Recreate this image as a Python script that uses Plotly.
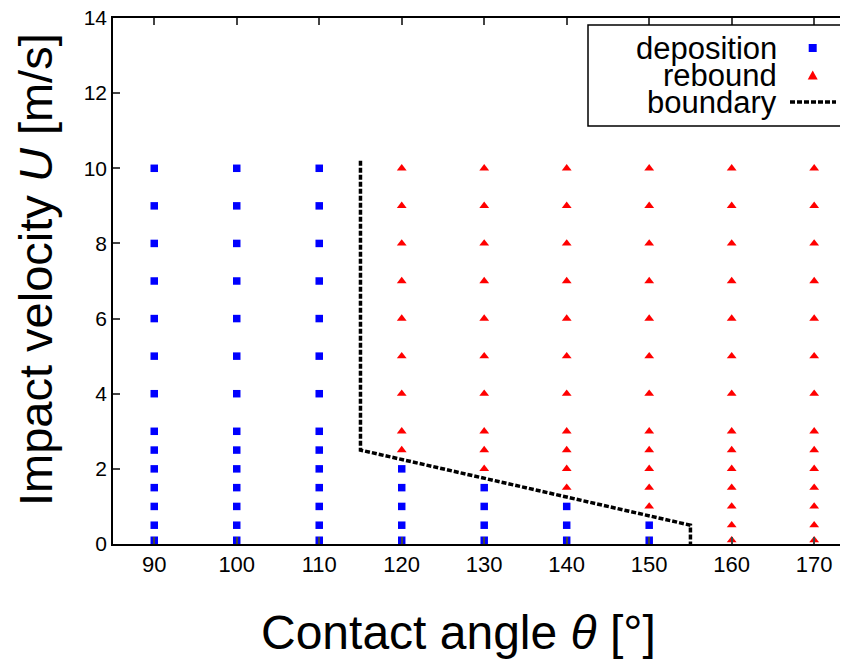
import plotly.graph_objects as go

# ---- data ----
angles = [90, 100, 110, 120, 130, 140, 150, 160, 170]
velocities = [0.1, 0.5, 1, 1.5, 2, 2.5, 3, 4, 5, 6, 7, 8, 9, 10]
# highest velocity (inclusive) still showing deposition at each angle (None = never)
deposition_max_u = [10, 10, 10, 2, 1.5, 1, 0.5, None, None]

boundary_theta = [115, 115, 155, 155]
boundary_u = [10.2, 2.5, 0.5, 0]

x_ticks = [90, 100, 110, 120, 130, 140, 150, 160, 170]
y_ticks = [0, 2, 4, 6, 8, 10, 12, 14]

dep_x, dep_y, reb_x, reb_y = [], [], [], []
for a, umax in zip(angles, deposition_max_u):
    for u in velocities:
        if umax is not None and u <= umax:
            dep_x.append(a); dep_y.append(u)
        else:
            reb_x.append(a); reb_y.append(u)

OFF = 8  # page body margin
W, H = 848 - OFF, 662 - OFF
L, R, T, B = 113 - OFF, 0, 18 - OFF, 662 - 544
PW, PH = W - L - R, H - T - B

def px(x):  # page x -> paper
    return (x - OFF - L) / PW

def py(y):  # page y -> paper
    return (H - B - (y - OFF)) / PH

fig = go.Figure()
fig.add_trace(go.Scatter(x=dep_x, y=dep_y, mode="markers", name="deposition",
                         marker=dict(symbol="square", size=7.5, color="#0000ff"),
                         showlegend=False))
fig.add_trace(go.Scatter(x=reb_x, y=reb_y, mode="markers", name="rebound",
                         marker=dict(symbol="triangle-up", size=8.5, color="#ff0000"),
                         showlegend=False))
fig.add_trace(go.Scatter(x=boundary_theta, y=boundary_u, mode="lines", name="boundary",
                         line=dict(color="black", width=3.5, dash="5px,2px"),
                         showlegend=False))

font_family = "Liberation Sans, Arial, sans-serif"

fig.update_layout(
    width=W, height=H,
    margin=dict(l=L, r=R, t=T, b=B),
    plot_bgcolor="white", paper_bgcolor="white",
    font=dict(family=font_family, color="black", size=22),
    xaxis=dict(range=[85, 174.1], tickvals=x_ticks, ticks="inside", ticklen=7,
               tickwidth=1.5, showline=True, linewidth=1.5, linecolor="black",
               mirror="ticks", showgrid=False, zeroline=False,
               tickfont=dict(size=22), automargin=False, ticklabeloverflow="allow"),
    yaxis=dict(range=[0, 14], tickvals=y_ticks, ticks="inside", ticklen=7,
               tickwidth=1.5, showline=True, linewidth=1.5, linecolor="black",
               mirror=False, showgrid=False, zeroline=False,
               tickfont=dict(size=21), automargin=False, ticklabeloverflow="allow"),
    showlegend=False,
)

# axis titles
fig.add_annotation(text="Contact angle <i>θ</i> [°]", xref="paper", yref="paper",
                   x=px(458), y=py(632), showarrow=False,
                   font=dict(size=48, family=font_family), xanchor="center", yanchor="middle")
fig.add_annotation(text="Impact velocity <i>U</i> [m/s]", xref="paper", yref="paper",
                   x=px(35), y=py(270), showarrow=False, textangle=-90,
                   font=dict(size=47, family=font_family), xanchor="center", yanchor="middle")

# custom legend
fig.add_shape(type="rect", xref="paper", yref="paper",
              x0=px(588), x1=px(846.5), y0=py(126), y1=py(25),
              line=dict(color="black", width=1.5), fillcolor="white", layer="above")
labels = ["deposition", "rebound", "boundary"]
ys = [48, 75, 102]
for lab, yy in zip(labels, ys):
    fig.add_annotation(text=lab, xref="paper", yref="paper", x=px(779), y=py(yy),
                       showarrow=False, xanchor="right", yanchor="middle",
                       font=dict(size=31, family=font_family))
mx = 812.7
fig.add_shape(type="rect", xref="paper", yref="paper",
              x0=px(mx - 4), x1=px(mx + 4), y0=py(48 + 4), y1=py(48 - 4),
              fillcolor="#0000ff", line=dict(width=0), layer="above")
fig.add_shape(type="path", xref="paper", yref="paper",
              path=f"M {px(mx-5)} {py(79.5)} L {px(mx+5)} {py(79.5)} L {px(mx)} {py(70.5)} Z",
              fillcolor="#ff0000", line=dict(width=0), layer="above")
fig.add_shape(type="line", xref="paper", yref="paper",
              x0=px(790), x1=px(836), y0=py(102), y1=py(102),
              line=dict(color="black", width=3.5, dash="5px,2px"), layer="above")

fig.write_html("out.html")
